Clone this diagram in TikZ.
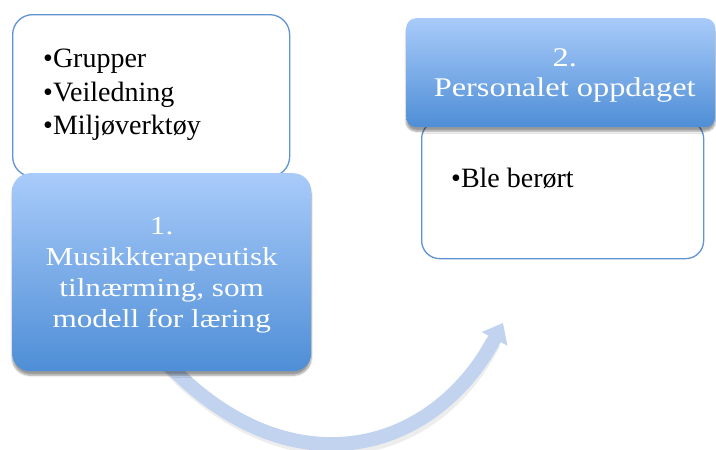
\documentclass[tikz,border=0pt]{standalone}
\usepackage{fontspec}
\setmainfont{Liberation Serif}
\newfontfamily\headfont{Liberation Serif}[FakeStretch=1.2]
\usetikzlibrary{shadows.blur,arrows.meta}
\definecolor{boxtop}{HTML}{A9CBFA}
\definecolor{boxbottom}{HTML}{4E8ED6}
\definecolor{frameblue}{HTML}{5F93D1}
\definecolor{arrowblue}{HTML}{C2D3F0}
\tikzset{
  listbox/.style={draw=frameblue, line width=1.3pt, fill=white, anchor=north west, inner sep=0pt},
  titlebox/.style={top color=boxtop, bottom color=boxbottom, anchor=north west, inner sep=0pt,
    blur shadow={shadow xshift=0pt, shadow yshift=-4pt, shadow opacity=40, shadow blur steps=8}},
  titletext/.style={inner sep=0pt, text=white, font=\headfont\fontsize{26}{31}\selectfont,
    align=center, text depth=0pt},
  itemtext/.style={inner sep=0pt, font=\fontsize{28}{33.5}\selectfont, align=left},
  flowarrow/.style={draw=arrowblue, line width=14pt, -{Triangle[width=28pt,length=18pt]}},
  arrowshade/.style={draw=black, opacity=0.07, line width=16pt},
}
\begin{document}
\begin{tikzpicture}[x=1pt,y=-1pt]
\useasboundingbox (0,0) rectangle (716,450);
% curved arrow from step 1 to step 2 (drawn first, it starts under step 1)
\coordinate (arrowstart) at (166,362);
\coordinate (arrowtip) at (503,323);
\coordinate (shadestart) at (168,365);
\coordinate (shadeend) at (493,342);
\draw[arrowshade] (shadestart) .. controls (289,493) and (434,461) .. (shadeend);
\draw[flowarrow] (arrowstart) .. controls (286,490) and (431,458) .. (arrowtip);
% step 1: list box behind the title box
\node[listbox, rounded corners=20pt, minimum width=277pt, minimum height=162pt] (list1) at (12,14) {};
\node[itemtext, anchor=north west] (items1) at (43,49) {•Grupper\\•Veiledning\\•Miljøverktøy};
\node[titlebox, rounded corners=18pt, minimum width=299pt, minimum height=198pt] (step1) at (12,173) {};
\node[titletext] (step1text) at (step1.center)
  {1.\\Musikkterapeutisk\\tilnærming, som\\modell for læring};
% step 2: list box under the title box
\node[listbox, rounded corners=18pt, minimum width=282pt, minimum height=138pt] (list2) at (421,120) {};
\node[itemtext, anchor=base west] (items2) at (451,187) {•Ble berørt};
\node[titlebox, rounded corners=10pt, minimum width=309pt, minimum height=109pt] (step2) at (406,18) {};
\node[titletext, font=\headfont\fontsize{27}{30}\selectfont] (step2text) at ([xshift=4pt]step2.center)
  {2.\\Personalet oppdaget};
\end{tikzpicture}
\end{document}
